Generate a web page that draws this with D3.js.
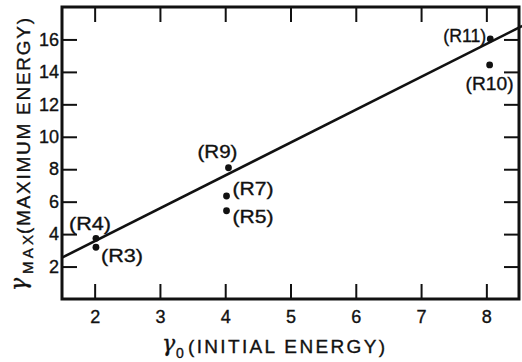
<!DOCTYPE html>
<html>
<head>
<meta charset="utf-8">
<script src="https://cdn.jsdelivr.net/npm/d3@7"></script>
<style>
  html, body { margin: 0; padding: 0; background: #fff; }
  svg { display: block; }
  text { font-family: "Liberation Sans", Arial, sans-serif; fill: #111; stroke: #111; stroke-width: 0.35px; }
</style>
</head>
<body>
<div id="chart"></div>
<script>
// ---- data ----
const runLabels = ["(R3)", "(R4)", "(R5)", "(R7)", "(R9)", "(R10)", "(R11)"];
const gamma0    = [2.02, 2.02, 4.02, 4.02, 4.05, 8.05, 8.06];
const gammaMax  = [3.19, 3.74, 5.44, 6.35, 8.09, 14.43, 16.03];
const fitX = [1.5, 8.55];
const fitY = [2.55, 16.83];
const xTicks = [2, 3, 4, 5, 6, 7, 8];
const yTicks = [2, 4, 6, 8, 10, 12, 14, 16];

// ---- layout ----
const W = 522, H = 362;
const mL = 62, mR = 519, mT = 7, mB = 299;
const svg = d3.select("#chart").append("svg").attr("width", W).attr("height", H);

const x = d3.scaleLinear().domain([1.5, 8.5]).range([mL, mR]);
const y = d3.scaleLinear().domain([0, 18]).range([mB, mT]);
const tickLen = 15;
const fmt = d3.format("d");

// axes with inward ticks
const axB = d3.axisBottom(x).tickValues(xTicks).tickFormat(fmt).tickSizeInner(-tickLen).tickSizeOuter(0).tickPadding(11);
const axT = d3.axisTop(x).tickValues(xTicks).tickSizeInner(-tickLen).tickSizeOuter(0).tickFormat("");
const axL = d3.axisLeft(y).tickValues(yTicks).tickFormat(fmt).tickSizeInner(-tickLen).tickSizeOuter(0).tickPadding(3);
const axR = d3.axisRight(y).tickValues(yTicks).tickSizeInner(-tickLen).tickSizeOuter(0).tickFormat("");

function styleAxis(g) {
  g.select(".domain").remove();
  g.selectAll(".tick line").attr("stroke", "#111").attr("stroke-width", 2);
  g.selectAll(".tick text").style("font-family", "'Liberation Sans', Arial, sans-serif")
    .style("font-size", "18px").attr("fill", "#111");
}
svg.append("g").attr("transform", `translate(0,${mB})`).call(axB).call(styleAxis);
svg.append("g").attr("transform", `translate(0,${mT})`).call(axT).call(styleAxis);
svg.append("g").attr("transform", `translate(${mL},0)`).call(axL).call(styleAxis);
svg.append("g").attr("transform", `translate(${mR},0)`).call(axR).call(styleAxis);

// frame
svg.append("rect").attr("x", mL).attr("y", mT)
  .attr("width", mR - mL).attr("height", mB - mT)
  .attr("fill", "none").attr("stroke", "#111").attr("stroke-width", 3);

// fit line
const fitData = fitX.map((v, i) => [v, fitY[i]]);
svg.append("path").datum(fitData)
  .attr("d", d3.line().x(d => x(d[0])).y(d => y(d[1])))
  .attr("fill", "none").attr("stroke", "#111").attr("stroke-width", 2.6);

// points
const pts = runLabels.map((l, i) => ({ label: l, x: gamma0[i], y: gammaMax[i] }));
svg.append("g").selectAll("circle").data(pts).join("circle")
  .attr("cx", d => x(d.x)).attr("cy", d => y(d.y)).attr("r", 3.4).attr("fill", "#111");

// labels (offsets relative to points)
const off = {
  "(R3)": [5, 15, 42], "(R4)": [-27, -8, 42], "(R5)": [6, 12, 41], "(R7)": [6, -1, 41],
  "(R9)": [-31, -10, 40], "(R10)": [-24, 25, 48], "(R11)": [-47, 3, 43]
};
svg.append("g").selectAll("text").data(pts).join("text")
  .attr("x", d => x(d.x) + off[d.label][0])
  .attr("y", d => y(d.y) + off[d.label][1])
  .attr("textLength", d => off[d.label][2])
  .attr("lengthAdjust", "spacingAndGlyphs")
  .style("font-size", "18px")
  .text(d => d.label);

// x title
const xt = svg.append("g");
xt.append("text").attr("x", 162).attr("y", 351).style("font-size", "22px").style("font-style", "italic")
  .style("font-family", "'DejaVu Serif', serif").text("γ");
xt.append("text").attr("x", 176).attr("y", 358).style("font-size", "14px").text("0");
xt.append("text").attr("x", 188).attr("y", 353).attr("textLength", 197).attr("lengthAdjust", "spacing")
  .style("font-size", "19px").text("(INITIAL  ENERGY)");

// y title (rotated)
const yt = svg.append("g").attr("transform", "rotate(-90)");
yt.append("text").attr("x", -291).attr("y", 26).style("font-size", "22px").style("font-style", "italic")
  .style("font-family", "'DejaVu Serif', serif").text("γ");
yt.append("text").attr("x", -274).attr("y", 33).attr("textLength", 39).attr("lengthAdjust", "spacing")
  .style("font-size", "15px").text("MAX");
yt.append("text").attr("x", -234).attr("y", 30).attr("textLength", 216).attr("lengthAdjust", "spacing")
  .style("font-size", "19px").text("(MAXIMUM  ENERGY)");
</script>
</body>
</html>
